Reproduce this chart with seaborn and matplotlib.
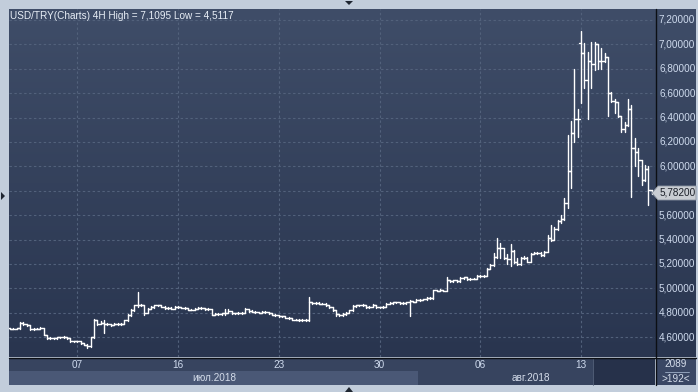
import numpy as np
import pandas as pd
import matplotlib
matplotlib.use("Agg")
import matplotlib.pyplot as plt
import seaborn as sns
from matplotlib.patches import Rectangle, Polygon

# ---------------- data (USD/TRY, 4H bars) ----------------
opens = [4.672, 4.670, 4.668, 4.672, 4.720, 4.705, 4.700, 4.665, 4.668, 4.670,
         4.675, 4.620, 4.595, 4.590, 4.590, 4.600, 4.598, 4.600, 4.590, 4.568,
         4.567, 4.565, 4.550, 4.540, 4.525, 4.600, 4.740, 4.710, 4.720, 4.710,
         4.705, 4.700, 4.710, 4.705, 4.710, 4.740, 4.780, 4.820, 4.860, 4.865,
         4.860, 4.800, 4.835, 4.845, 4.860, 4.860, 4.850, 4.840, 4.840, 4.835,
         4.850, 4.845, 4.840, 4.840, 4.825, 4.825, 4.835, 4.840, 4.840, 4.830,
         4.830, 4.785, 4.790, 4.790, 4.795, 4.800, 4.815, 4.795, 4.795, 4.800,
         4.800, 4.830, 4.815, 4.810, 4.805, 4.800, 4.810, 4.805, 4.795, 4.785,
         4.780, 4.770, 4.770, 4.760, 4.755, 4.745, 4.745, 4.740, 4.740, 4.745,
         4.885, 4.880, 4.880, 4.875, 4.875, 4.860, 4.845, 4.820, 4.790, 4.780,
         4.790, 4.800, 4.820, 4.855, 4.860, 4.860, 4.865, 4.845, 4.850, 4.865,
         4.845, 4.845, 4.850, 4.875, 4.880, 4.885, 4.885, 4.880, 4.880, 4.885,
         4.895, 4.890, 4.905, 4.905, 4.910, 4.920, 4.920, 4.985, 4.980, 4.985,
         4.980, 5.065, 5.060, 5.065, 5.060, 5.085, 5.090, 5.075, 5.080, 5.080,
         5.100, 5.100, 5.105, 5.160, 5.190, 5.260, 5.330, 5.330, 5.250, 5.245,
         5.310, 5.220, 5.200, 5.250, 5.250, 5.220, 5.285, 5.290, 5.290, 5.270,
         5.300, 5.410, 5.400, 5.490, 5.550, 5.570, 5.700, 5.960, 6.270, 6.390,
         7.010, 6.930, 6.710, 6.860, 6.840, 7.000, 6.860, 6.860, 6.900, 6.600,
         6.540, 6.530, 6.410, 6.310, 6.340, 6.470, 6.150, 6.120, 6.050, 5.890,
         5.980, 5.810]
highs = [4.676, 4.674, 4.676, 4.725, 4.722, 4.710, 4.703, 4.672, 4.676, 4.680,
         4.678, 4.622, 4.600, 4.596, 4.604, 4.605, 4.610, 4.603, 4.592, 4.572,
         4.570, 4.567, 4.552, 4.542, 4.605, 4.750, 4.742, 4.730, 4.740, 4.715,
         4.710, 4.714, 4.713, 4.716, 4.745, 4.790, 4.830, 4.866, 4.970, 4.872,
         4.865, 4.840, 4.852, 4.868, 4.866, 4.863, 4.853, 4.846, 4.845, 4.855,
         4.856, 4.850, 4.846, 4.843, 4.831, 4.840, 4.845, 4.846, 4.843, 4.836,
         4.832, 4.796, 4.796, 4.800, 4.830, 4.835, 4.818, 4.801, 4.805, 4.806,
         4.836, 4.833, 4.820, 4.815, 4.810, 4.815, 4.815, 4.808, 4.798, 4.790,
         4.784, 4.776, 4.773, 4.764, 4.758, 4.751, 4.749, 4.746, 4.752, 4.930,
         4.892, 4.886, 4.885, 4.881, 4.878, 4.863, 4.848, 4.823, 4.794, 4.795,
         4.805, 4.825, 4.860, 4.866, 4.866, 4.871, 4.868, 4.856, 4.870, 4.868,
         4.851, 4.856, 4.880, 4.886, 4.891, 4.891, 4.890, 4.886, 4.891, 4.905,
         4.900, 4.910, 4.911, 4.916, 4.926, 4.926, 4.990, 4.990, 4.991, 4.990,
         5.090, 5.072, 5.071, 5.070, 5.090, 5.096, 5.093, 5.086, 5.086, 5.106,
         5.106, 5.111, 5.166, 5.200, 5.290, 5.410, 5.370, 5.335, 5.280, 5.360,
         5.315, 5.250, 5.260, 5.262, 5.255, 5.290, 5.300, 5.298, 5.295, 5.310,
         5.440, 5.520, 5.500, 5.560, 5.600, 5.740, 6.260, 6.370, 6.800, 6.470,
         7.1095, 7.010, 6.940, 7.020, 7.020, 7.000, 6.970, 6.930, 6.900, 6.610,
         6.550, 6.530, 6.410, 6.360, 6.550, 6.500, 6.230, 6.150, 6.050, 6.010,
         6.000, 5.810]
lows = [4.666, 4.664, 4.664, 4.668, 4.700, 4.695, 4.660, 4.660, 4.664, 4.666,
        4.615, 4.588, 4.586, 4.585, 4.587, 4.594, 4.594, 4.586, 4.564, 4.563,
        4.560, 4.546, 4.535, 4.512, 4.520, 4.590, 4.700, 4.705, 4.635, 4.698,
        4.695, 4.696, 4.700, 4.700, 4.706, 4.735, 4.775, 4.815, 4.850, 4.852,
        4.785, 4.795, 4.830, 4.840, 4.852, 4.845, 4.835, 4.834, 4.830, 4.832,
        4.840, 4.836, 4.834, 4.820, 4.819, 4.822, 4.831, 4.834, 4.826, 4.824,
        4.780, 4.781, 4.784, 4.786, 4.780, 4.795, 4.790, 4.789, 4.791, 4.794,
        4.797, 4.810, 4.806, 4.800, 4.795, 4.796, 4.800, 4.790, 4.780, 4.775,
        4.766, 4.764, 4.756, 4.750, 4.740, 4.739, 4.735, 4.734, 4.730, 4.735,
        4.875, 4.874, 4.870, 4.869, 4.855, 4.840, 4.815, 4.770, 4.776, 4.776,
        4.786, 4.796, 4.816, 4.851, 4.854, 4.855, 4.840, 4.841, 4.846, 4.840,
        4.839, 4.841, 4.846, 4.871, 4.876, 4.879, 4.876, 4.874, 4.876, 4.770,
        4.885, 4.886, 4.899, 4.901, 4.906, 4.914, 4.916, 4.975, 4.976, 4.975,
        4.976, 5.055, 5.056, 5.055, 5.056, 5.080, 5.070, 5.071, 5.074, 5.076,
        5.094, 5.096, 5.100, 5.155, 5.185, 5.250, 5.250, 5.240, 5.200, 5.180,
        5.210, 5.195, 5.195, 5.240, 5.215, 5.215, 5.280, 5.282, 5.265, 5.265,
        5.295, 5.390, 5.395, 5.480, 5.540, 5.560, 5.660, 5.820, 6.200, 6.240,
        6.520, 6.640, 6.390, 6.640, 6.790, 6.800, 6.800, 6.855, 6.410, 6.530,
        6.440, 6.405, 6.280, 6.280, 6.330, 5.750, 6.000, 5.920, 5.850, 5.880,
        5.680, 5.775]
closes = [4.670, 4.668, 4.672, 4.720, 4.705, 4.700, 4.665, 4.668, 4.670, 4.675,
          4.620, 4.595, 4.590, 4.590, 4.600, 4.598, 4.600, 4.590, 4.568, 4.567,
          4.565, 4.550, 4.540, 4.525, 4.600, 4.740, 4.710, 4.720, 4.710, 4.705,
          4.700, 4.710, 4.705, 4.710, 4.740, 4.780, 4.820, 4.860, 4.865, 4.860,
          4.800, 4.835, 4.845, 4.860, 4.860, 4.850, 4.840, 4.840, 4.835, 4.850,
          4.845, 4.840, 4.840, 4.825, 4.825, 4.835, 4.840, 4.840, 4.830, 4.830,
          4.785, 4.790, 4.790, 4.795, 4.800, 4.815, 4.795, 4.795, 4.800, 4.800,
          4.830, 4.815, 4.810, 4.805, 4.800, 4.810, 4.805, 4.795, 4.785, 4.780,
          4.770, 4.770, 4.760, 4.755, 4.745, 4.745, 4.740, 4.740, 4.745, 4.885,
          4.880, 4.880, 4.875, 4.875, 4.860, 4.845, 4.820, 4.790, 4.780, 4.790,
          4.800, 4.820, 4.855, 4.860, 4.860, 4.865, 4.845, 4.850, 4.865, 4.845,
          4.845, 4.850, 4.875, 4.880, 4.885, 4.885, 4.880, 4.880, 4.885, 4.895,
          4.890, 4.905, 4.905, 4.910, 4.920, 4.920, 4.985, 4.980, 4.985, 4.980,
          5.065, 5.060, 5.065, 5.060, 5.085, 5.090, 5.075, 5.080, 5.080, 5.100,
          5.100, 5.105, 5.160, 5.190, 5.260, 5.330, 5.330, 5.250, 5.245, 5.310,
          5.220, 5.200, 5.250, 5.250, 5.220, 5.285, 5.290, 5.290, 5.270, 5.300,
          5.410, 5.400, 5.490, 5.550, 5.570, 5.700, 5.960, 6.270, 6.390, 6.390,
          6.930, 6.710, 6.860, 6.840, 7.000, 6.860, 6.860, 6.900, 6.600, 6.540,
          6.530, 6.410, 6.310, 6.340, 6.470, 6.150, 6.120, 6.050, 5.890, 5.980,
          5.810, 5.782]

x_tick_pos = [20, 50, 80, 110, 140, 170]
x_tick_labels = ["07", "16", "23", "30", "06", "13"]
y_ticks = [4.6, 4.8, 5.0, 5.2, 5.4, 5.6, 5.8, 6.0, 6.2, 6.4, 6.6, 6.8, 7.0, 7.2]
y_tick_labels = ["4,60000", "4,80000", "5,00000", "5,20000", "5,40000", "5,60000",
                 "5,80000", "6,00000", "6,20000", "6,40000", "6,60000", "6,80000",
                 "7,00000", "7,20000"]
month_labels = ["июл.2018", "авг.2018"]
title = "USD/TRY(Charts) 4H High = 7,1095 Low = 4,5117"
last_price = 5.782
last_price_label = "5,78200"
total_bars = "2089"
visible_bars = ">192<"

# ---------------- styling ----------------
sns.set_style("dark")
plt.rcParams["font.family"] = ["Liberation Sans", "DejaVu Sans"]

W, H = 698, 392
fig = plt.figure(figsize=(W / 100, H / 100), dpi=100)
fig.patch.set_facecolor("#c2cddb")


def rect(x, y, w, h, color, z=1, **kw):
    fig.add_artist(Rectangle((x / W, 1 - (y + h) / H), w / W, h / H,
                             transform=fig.transFigure, facecolor=color,
                             edgecolor="none", zorder=z, **kw))


def fline(x0, y0, x1, y1, color, lw=1.0, z=5):
    fig.add_artist(plt.Line2D([x0 / W, x1 / W], [1 - y0 / H, 1 - y1 / H],
                              transform=fig.transFigure, color=color, lw=lw, zorder=z))


def tri(pts, color="#1e2530", z=6):
    fig.add_artist(Polygon([(px / W, 1 - py / H) for px, py in pts], closed=True,
                           transform=fig.transFigure, facecolor=color,
                           edgecolor="none", zorder=z))


# background gradient (plot + right price scale)
L, T, R, B = 9, 9, 696, 357
bg = fig.add_axes([L / W, 1 - B / H, (R - L) / W, (B - T) / H], zorder=0)
top_c = np.array([63, 77, 104]) / 255
bot_c = np.array([41, 53, 79]) / 255
t = np.linspace(0, 1, 256)[:, None]
grad = (top_c[None, :] * (1 - t) + bot_c[None, :] * t)[:, None, :]
bg.imshow(grad, aspect="auto", extent=[0, 1, 0, 1])
bg.axis("off")

# main price axes
PL, PR = 9, 655
ax = fig.add_axes([PL / W, 1 - B / H, (PR - PL) / W, (B - T) / H], zorder=2)
ax.set_facecolor("none")

# OHLC segments in long form, drawn by seaborn
rows = []
tick_w = 0.6
for i, (o, h, l, c) in enumerate(zip(opens, highs, lows, closes)):
    rows += [(i, l, 3 * i), (i, h, 3 * i),
             (i - tick_w, o, 3 * i + 1), (i, o, 3 * i + 1),
             (i, c, 3 * i + 2), (i + tick_w, c, 3 * i + 2)]
df = pd.DataFrame(rows, columns=["x", "y", "seg"])
sns.lineplot(data=df, x="x", y="y", units="seg", estimator=None, sort=False,
             color="white", lw=1.0, ax=ax, legend=False, zorder=4)

ymin = 7.2 - (B - 20) / 122.0
ymax = 7.2 + (20 - T) / 122.0
ax.set_xlim(-0.3, 192.0)
ax.set_ylim(ymin, ymax)
ax.set_xticks([])
ax.set_yticks([])
ax.set_xlabel("")
ax.set_ylabel("")
for s in ax.spines.values():
    s.set_visible(False)

grid_c = "#52617b"
for yv in y_ticks:
    ax.axhline(yv, color=grid_c, lw=0.8, ls=(0, (2.2, 2.2)), zorder=1)
for xv in x_tick_pos:
    ax.axvline(xv, color=grid_c, lw=0.8, ls=(0, (2.2, 2.2)), zorder=1)

# title
fig.text(10 / W, 1 - 16 / H, title, ha="left", va="center", fontsize=7.2,
         color="#e8eef6", zorder=10)

# price scale separator
fline(655.5, 9, 655.5, 385, "#0c0f14", lw=1.0, z=8)


def ypix(v):
    return 20 + (7.2 - v) * 122.0


# right price labels (the one hidden under the last-price box is not shown)
py = ypix(last_price)
for yv, lab in zip(y_ticks, y_tick_labels):
    if abs(ypix(yv) - py) < 12:
        continue
    fig.text(659 / W, 1 - ypix(yv) / H, lab, ha="left", va="center",
             fontsize=7.2, color="#cfdbee", zorder=10)

# last price marker
fig.add_artist(Polygon([(652 / W, 1 - py / H), (658 / W, 1 - (py - 7) / H),
                        (696 / W, 1 - (py - 7) / H), (696 / W, 1 - (py + 7) / H),
                        (658 / W, 1 - (py + 7) / H)], closed=True,
                       transform=fig.transFigure, facecolor="#c9cdd3",
                       edgecolor="#8a93a0", lw=0.6, zorder=11))
fig.text(660 / W, 1 - py / H, last_price_label, ha="left", va="center",
         fontsize=7.2, color="#1a1f28", zorder=12)

# bottom axis strip
fline(9, 357.5, 696, 357.5, "#0c0f14", lw=1.0, z=8)
rect(9, 358, 646, 13, "#37445f", z=3)
rect(9, 371, 409, 14, "#4a5876", z=3)
rect(418, 371, 175, 14, "#37445f", z=3)
rect(593, 358, 62, 27, "#26314a", z=4)
fline(593, 358, 593, 385, "#55637c", lw=0.6, z=5)
rect(656, 358, 40, 27, "#3a4764", z=3)
fline(665, 372, 689, 372, "#9fb0c8", lw=0.6, z=6)

for xv, lab in zip(x_tick_pos, x_tick_labels):
    xp = 10 + xv * 3.36
    fig.text(xp / W, 1 - 365 / H, lab, ha="center", va="center", fontsize=7.2,
             color="#cfdbee", zorder=10)
fig.text(214 / W, 1 - 378 / H, month_labels[0], ha="center", va="center",
         fontsize=7.2, color="#d4dcea", zorder=10)
fig.text(531 / W, 1 - 378 / H, month_labels[1], ha="center", va="center",
         fontsize=7.2, color="#d4dcea", zorder=10)
fig.text(676 / W, 1 - 364 / H, total_bars, ha="center", va="center",
         fontsize=7.2, color="#d4dcea", zorder=10)
fig.text(676 / W, 1 - 379 / H, visible_bars, ha="center", va="center",
         fontsize=7.2, color="#d4dcea", zorder=10)

# frame arrows
tri([(345, 1), (353, 1), (349, 5)])
tri([(345, 392), (353, 392), (349, 387)])
tri([(1, 192), (1, 200), (5, 196)])

fig.savefig("out.png", dpi=100, facecolor=fig.get_facecolor())
